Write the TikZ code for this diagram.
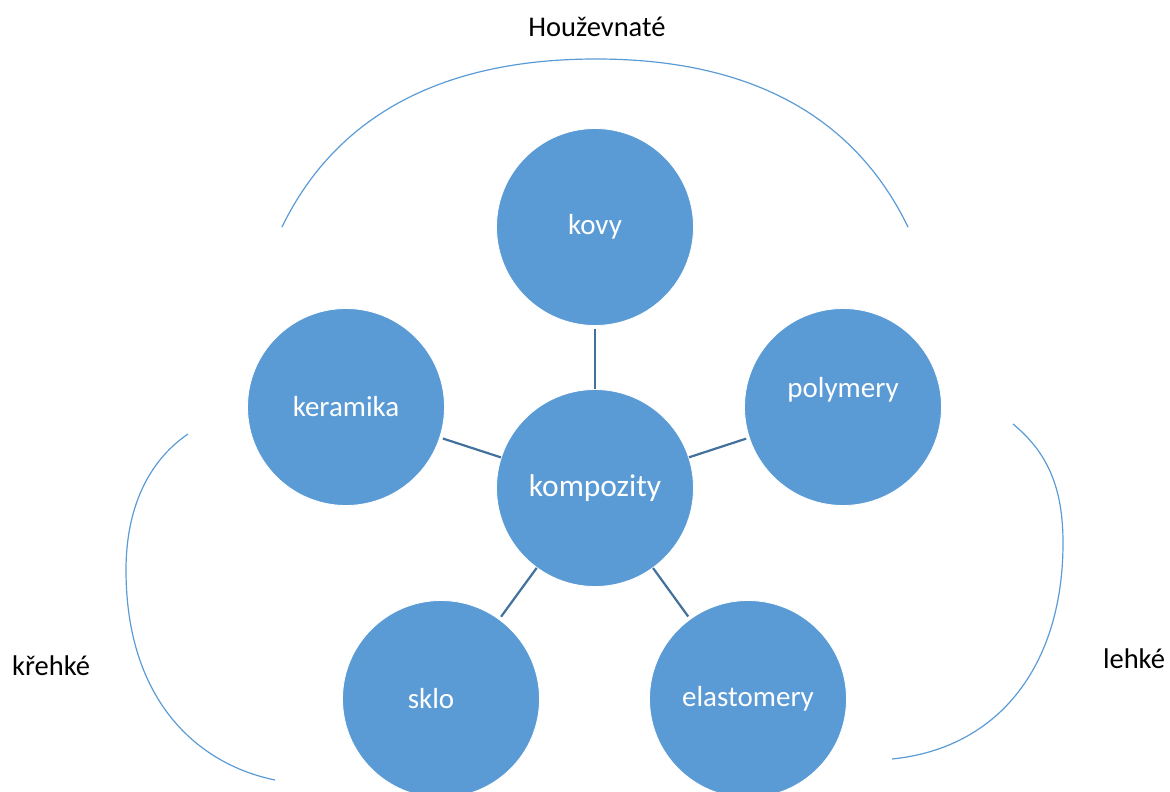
\documentclass[tikz,border=0pt]{standalone}
\usepackage{fontspec}
\setmainfont{Carlito}
\usetikzlibrary{positioning}
\definecolor{partblue}{HTML}{5B9BD5}
\definecolor{linkblue}{HTML}{41719C}

\begin{document}
\begin{tikzpicture}[x=1pt, y=-1pt,
    part/.style={circle, fill=partblue, draw=white, line width=0.8pt, text=white,
      minimum size=197pt, inner sep=0pt, font=\fontsize{29}{34}\selectfont},
    link/.style={draw=linkblue, line width=2.2pt, shorten <=3pt},
    bracket/.style={draw=partblue, line width=1.2pt},
    group/.style={font=\fontsize{28.5}{34}\selectfont}]
  \useasboundingbox (0,0) rectangle (1170,792);

  \node[part, font=\fontsize{31.5}{36}\selectfont] at (595,488) (kompozity) {kompozity};
  \node[part] at (595,227) (kovy) {kovy};
  \node[part] at (346,407) (keramika) {keramika};
  \node[part, text height=20pt, text depth=40pt] at (843,407) (polymery) {polymery};
  \node[part] at (441,699) (sklo) {sklo\hspace*{20pt}};
  \node[part] at (748,699) (elastomery) {elastomery};

  \draw[link] (kovy) -- (kompozity);
  \draw[link] (keramika) -- (kompozity);
  \draw[link] (polymery) -- (kompozity);
  \draw[link] (sklo) -- (kompozity);
  \draw[link] (elastomery) -- (kompozity);

  \node[group] at (597,27) (tough) {Houževnaté};
  \node[group] at (51,666) (brittle) {křehké};
  \node[group] at (1134,659) (light) {lehké};

  \draw[bracket] (282,227) .. controls (330,128) and (426,59) .. (596,59)
    .. controls (766,59) and (860,128) .. (908,227);
  \draw[bracket] (188,434) .. controls (147,462) and (126,510) .. (126,570)
    .. controls (126,700) and (197,764) .. (275,780);
  \draw[bracket] (1013,424) .. controls (1048,453) and (1063,488) .. (1063,543)
    .. controls (1063,663) and (1001,748) .. (892,759);
\end{tikzpicture}
\end{document}
